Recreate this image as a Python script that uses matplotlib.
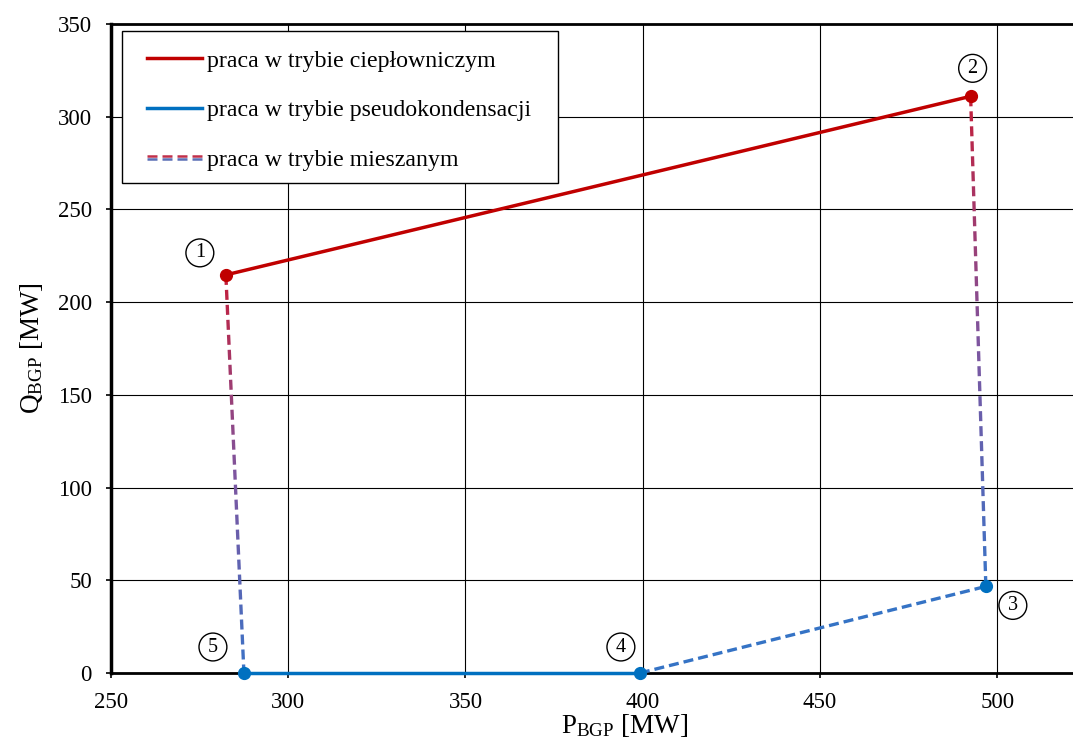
import numpy as np
import matplotlib
matplotlib.use("Agg")
import matplotlib.pyplot as plt
from matplotlib.collections import LineCollection
from matplotlib.colors import LinearSegmentedColormap
from matplotlib.lines import Line2D
from matplotlib.legend_handler import HandlerBase
from matplotlib.patches import Rectangle

# --- operating-region corner points (P_BGP, Q_BGP) in MW ---
point_ids = ["1", "2", "3", "4", "5"]
p_mw = [282.4, 492.5, 496.8, 399.2, 287.5]
q_mw = [214.7, 311.0, 46.7, 0.0, 0.0]

legend_labels = [
    "praca w trybie ciepłowniczym",
    "praca w trybie pseudokondensacji",
    "praca w trybie mieszanym",
]
x_ticks = [250, 300, 350, 400, 450, 500]
y_ticks = [0, 50, 100, 150, 200, 250, 300, 350]

RED = "#C00000"
BLUE = "#0070C0"
DASH_BLUE = "#3573C5"
grad = LinearSegmentedColormap.from_list(
    "heat_to_cond", ["#C41E3A", "#7E559F", "#3B73C6"])

plt.rcParams["font.family"] = ["Liberation Serif", "DejaVu Serif"]
plt.rcParams["mathtext.fontset"] = "custom"
plt.rcParams["mathtext.rm"] = "Liberation Serif"
plt.rcParams["mathtext.it"] = "Liberation Serif:italic"
plt.rcParams["lines.scale_dashes"] = False

FS = 16.5
FS_LABEL = 19.5
FS_LEGEND = 17.2
fig = plt.figure(figsize=(10.73, 7.53), dpi=100)
ax = fig.add_axes([111 / 1073, 80 / 753, 1028 / 1073, 649 / 753])
ax.set_xlim(250, 540)
ax.set_ylim(0, 350)
ax.set_xticks(x_ticks)
ax.set_yticks(y_ticks)
ax.grid(True, color="black", lw=0.8, zorder=0)
ax.set_axisbelow(True)
for side in ("left", "bottom", "top"):
    ax.spines[side].set_linewidth(2.0)
ax.spines["left"].set_linewidth(2.5)
ax.spines["right"].set_visible(False)
ax.tick_params(axis="both", direction="out", length=3.8, width=1.2,
               labelsize=FS)
ax.tick_params(axis="y", pad=10)
ax.tick_params(axis="x", pad=10)

ax.set_xlabel(r"P$_{\mathrm{BGP}}$ [MW]", fontsize=FS_LABEL)
ax.set_ylabel(r"Q$_{\mathrm{BGP}}$ [MW]", fontsize=FS_LABEL)
ax.xaxis.set_label_coords(0.5, -0.060)
ax.yaxis.set_label_coords(-0.064, 0.5)


def dashed_segment(i, j, colour_of, lw=2.4, dash=10.0, gap=5.0):
    """Dashed line from point i to j, each dash coloured by its position."""
    pix = ax.transData.transform(np.column_stack([[p_mw[i], p_mw[j]],
                                                  [q_mw[i], q_mw[j]]]))
    a, b = pix
    length = np.hypot(*(b - a))
    inv = ax.transData.inverted()
    segs, cols = [], []
    s = 0.0
    while s < length:
        e = min(s + dash, length)
        seg = np.array([a + (b - a) * s / length, a + (b - a) * e / length])
        segs.append(inv.transform(seg))
        cols.append(colour_of((s + e) / 2 / length))
        s += dash + gap
    lc = LineCollection(segs, colors=cols, linewidths=lw, capstyle="butt",
                        zorder=3, clip_on=False)
    ax.add_collection(lc)


# mixed-mode boundaries
dashed_segment(0, 4, grad)
dashed_segment(1, 2, grad)
dashed_segment(3, 2, lambda t: DASH_BLUE)

# heating mode (1-2) and pseudo-condensing mode (5-4)
ax.plot([p_mw[0], p_mw[1]], [q_mw[0], q_mw[1]], color=RED, lw=2.5,
        zorder=4, clip_on=False)
ax.plot([p_mw[4], p_mw[3]], [q_mw[4], q_mw[3]], color=BLUE, lw=2.5,
        zorder=4, clip_on=False)
ax.plot(p_mw[:2], q_mw[:2], "o", color=RED, ms=8.5, zorder=5, clip_on=False)
ax.plot(p_mw[2:], q_mw[2:], "o", color=BLUE, ms=8.5, zorder=5, clip_on=False)

# circled point numbers, offsets in pixels from each point
label_offsets = [(-26, 22), (2, 28), (27, -19), (-19, 26), (-31, 26)]
for pid, x, y, (dx, dy) in zip(point_ids, p_mw, q_mw, label_offsets):
    ax.annotate(pid, (x, y), xytext=(dx, dy), textcoords="offset pixels",
                ha="center", va="center", fontsize=14.5, zorder=6,
                annotation_clip=False,
                bbox=dict(boxstyle="circle,pad=0.22", fc="white",
                          ec="black", lw=1.0))


class SplitDashHandler(HandlerBase):
    def create_artists(self, legend, orig_handle, xdescent, ydescent,
                       width, height, fontsize, trans):
        y = height / 2 - ydescent
        out = []
        for off, col in ((0.9, "#C0304A"), (-0.9, "#5B6FB5")):
            ln = Line2D([-xdescent, width - xdescent], [y + off, y + off],
                        color=col, lw=1.8, dashes=(7.2, 3.6))
            ln.set_transform(trans)
            out.append(ln)
        return out


class MixedHandle:
    pass


handles = [Line2D([], [], color=RED, lw=2.5),
           Line2D([], [], color=BLUE, lw=2.5),
           MixedHandle()]

ax.add_patch(Rectangle((11 / 1028, (673 - 183) / 649), 436 / 1028,
                       152 / 649, transform=ax.transAxes, fc="white",
                       ec="black", lw=1.0, zorder=6))
leg = ax.legend(handles, legend_labels, loc="upper left",
                bbox_to_anchor=((147 - 111) / 1028, (673 - 50) / 649),
                frameon=False, borderpad=0, borderaxespad=0,
                fontsize=FS_LEGEND, handlelength=2.3, handletextpad=0.22,
                labelspacing=1.17,
                handler_map={MixedHandle: SplitDashHandler()})
leg.set_zorder(7)

fig.savefig("out.png", dpi=100)
